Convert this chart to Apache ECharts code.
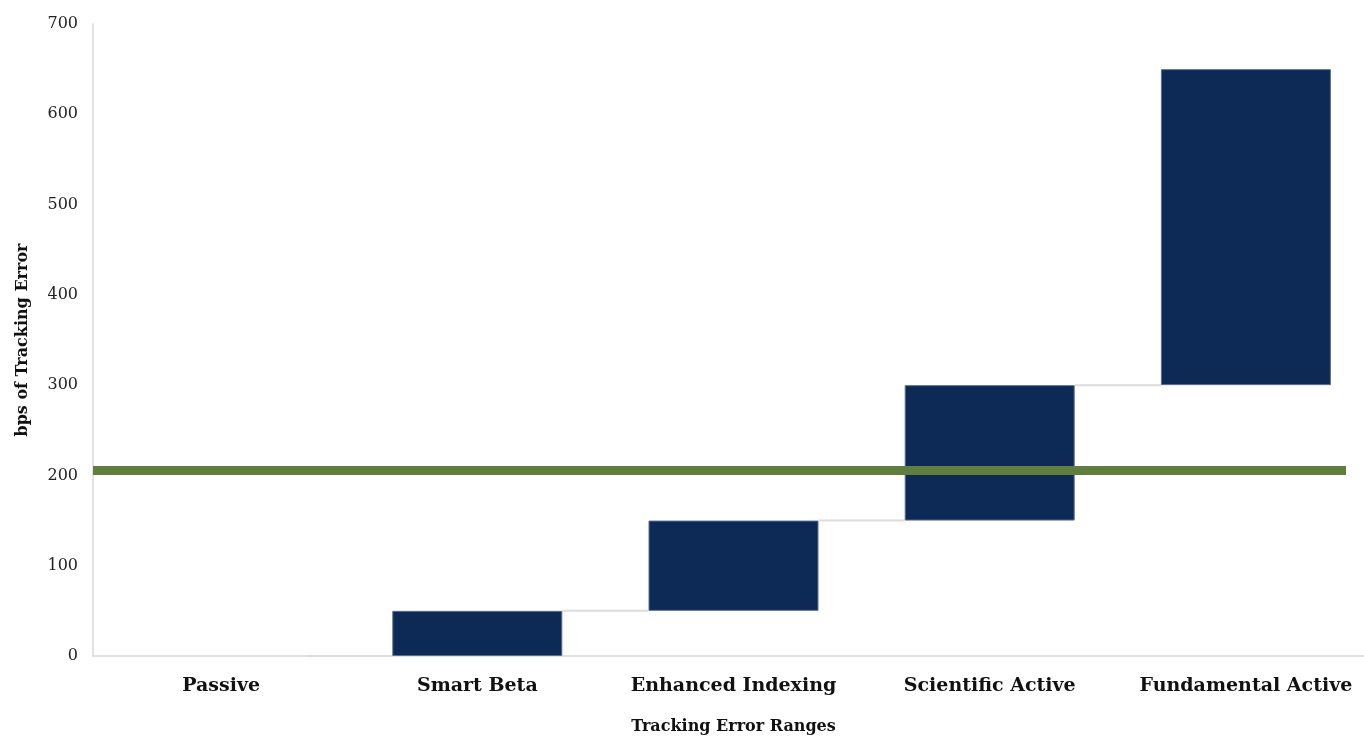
<!DOCTYPE html>
<html>
<head>
<meta charset="utf-8">
<script src="https://cdn.jsdelivr.net/npm/echarts@6/dist/echarts.min.js"></script>
<style>
  html, body { margin: 0; padding: 0; background: #ffffff; overflow: hidden; }
  #chart { width: 1364px; height: 736px; }
</style>
</head>
<body>
<div id="chart"></div>
<script>
// ---- data ----
var categories = ['Passive', 'Smart Beta', 'Enhanced Indexing', 'Scientific Active', 'Fundamental Active'];
var rangeLow  = [0, 0, 50, 150, 300];
var rangeHigh = [0, 50, 150, 300, 650];
var benchmarkLevel = 206;
var yMin = 0, yMax = 700, yInterval = 100;

// ---- derived ----
var baseValues = rangeLow.slice();
var spanValues = rangeHigh.map(function (h, i) { var d = h - rangeLow[i]; return d > 0 ? d : '-'; });
var connectorData = [];
for (var i = 0; i < categories.length - 1; i++) {
  connectorData.push([i, rangeHigh[i]]);
}

var BAR_W = 170;
var serif = '"DejaVu Serif", "Liberation Serif", serif';

var chart = echarts.init(document.getElementById('chart'));
chart.setOption({
  animation: false,
  backgroundColor: '#ffffff',
  grid: { left: 93, top: 24, bottom: 80, right: -10, containLabel: false, outerBoundsMode: 'none' },
  xAxis: {
    type: 'category',
    data: categories,
    axisLine: { show: true, lineStyle: { color: '#d9d9d9', width: 1.5 } },
    axisTick: { show: false },
    axisLabel: { interval: 0, hideOverlap: false, color: '#111', fontFamily: serif, fontWeight: 'bold', fontSize: 19, margin: 21 },
    name: 'Tracking Error Ranges',
    nameLocation: 'middle',
    nameGap: 63,
    nameTextStyle: { color: '#111', fontFamily: serif, fontWeight: 'bold', fontSize: 16 }
  },
  yAxis: {
    type: 'value',
    min: yMin, max: yMax, interval: yInterval,
    axisLine: { show: true, lineStyle: { color: '#d9d9d9', width: 1.5 } },
    axisTick: { show: false },
    splitLine: { show: false },
    axisLabel: { color: '#222', fontFamily: serif, fontSize: 16, margin: 15 },
    name: 'bps of Tracking Error',
    nameLocation: 'middle',
    nameGap: 62,
    nameRotate: 90,
    nameTextStyle: { color: '#111', fontFamily: serif, fontWeight: 'bold', fontSize: 16 }
  },
  series: [
    {
      type: 'custom',
      z: 1,
      data: connectorData,
      renderItem: function (params, api) {
        var idx = api.value(0);
        var val = api.value(1);
        var p0 = api.coord([idx, val]);
        var p1 = api.coord([idx + 1, val]);
        return {
          type: 'line',
          shape: { x1: p0[0] + BAR_W / 2, y1: p0[1], x2: p1[0] - BAR_W / 2, y2: p1[1] },
          style: { stroke: '#dcdcdc', lineWidth: 2 }
        };
      }
    },
    {
      type: 'bar',
      stack: 'range',
      barWidth: BAR_W,
      z: 2,
      itemStyle: { color: 'rgba(0,0,0,0)' },
      data: baseValues,
      silent: true
    },
    {
      type: 'bar',
      stack: 'range',
      barWidth: BAR_W,
      z: 2,
      itemStyle: { color: '#0c2a55', borderColor: '#5b6e90', borderWidth: 1 },
      data: spanValues,
      markLine: {
        silent: true,
        symbol: 'none',
        label: { show: false },
        lineStyle: { color: '#607f3f', width: 9, type: 'solid' },
        data: [[
          { coord: [0, benchmarkLevel], x: 93 },
          { coord: [categories.length - 1, benchmarkLevel], x: 1346 }
        ]]
      }
    }
  ]
});
</script>
</body>
</html>
